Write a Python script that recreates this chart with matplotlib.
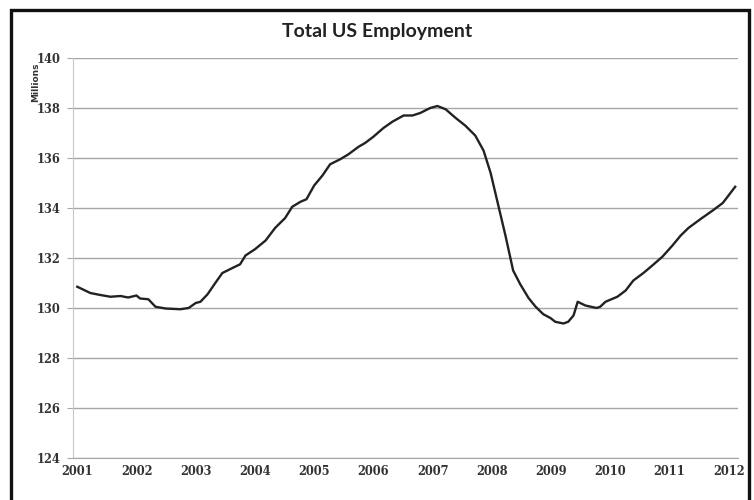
import matplotlib
matplotlib.use('Agg')
import matplotlib.pyplot as plt
from matplotlib.patches import Rectangle

# employment in millions (decimal year, value)
years = [2001.0, 2001.22, 2001.39, 2001.56, 2001.73, 2001.86, 2002.0, 2002.06, 2002.2, 2002.32,
         2002.49, 2002.74, 2002.88, 2003.0, 2003.08, 2003.2, 2003.33, 2003.45, 2003.62, 2003.75,
         2003.84, 2004.0, 2004.18, 2004.34, 2004.51, 2004.63, 2004.77, 2004.87, 2005.0, 2005.14,
         2005.27, 2005.44, 2005.58, 2005.75, 2005.86, 2006.0, 2006.17, 2006.32, 2006.51, 2006.66,
         2006.79, 2006.96, 2007.08, 2007.22, 2007.39, 2007.55, 2007.72, 2007.86, 2007.98, 2008.09,
         2008.23, 2008.36, 2008.48, 2008.62, 2008.74, 2008.87, 2008.99, 2009.07, 2009.21, 2009.29,
         2009.38, 2009.45, 2009.58, 2009.77, 2009.83, 2009.92, 2010.12, 2010.26, 2010.39, 2010.56,
         2010.71, 2010.88, 2011.05, 2011.19, 2011.32, 2011.52, 2011.73, 2011.9, 2012.11]
employment = [130.85, 130.6, 130.52, 130.45, 130.48, 130.42, 130.5, 130.38, 130.35, 130.05,
              129.98, 129.95, 130.0, 130.2, 130.25, 130.55, 131.0, 131.4, 131.6, 131.75,
              132.1, 132.35, 132.7, 133.2, 133.6, 134.05, 134.25, 134.35, 134.9, 135.3,
              135.75, 135.95, 136.15, 136.45, 136.6, 136.85, 137.2, 137.45, 137.7, 137.7,
              137.8, 138.0, 138.08, 137.95, 137.6, 137.3, 136.9, 136.3, 135.4, 134.3,
              132.9, 131.5, 130.95, 130.4, 130.05, 129.75, 129.6, 129.45, 129.38, 129.45,
              129.7, 130.25, 130.1, 130.0, 130.05, 130.25, 130.45, 130.7, 131.1, 131.4,
              131.7, 132.05, 132.5, 132.9, 133.2, 133.55, 133.9, 134.2, 134.85]

year_ticks = list(range(2001, 2013))
value_ticks = list(range(124, 141, 2))

fig = plt.figure(figsize=(7.54, 5.0), dpi=100)
# black frame round the picture, bottom edge cut off in the original
fig.patches.append(Rectangle((0.0146, -0.02), 0.979, 1.0, transform=fig.transFigure,
                             fill=False, edgecolor='#111111', linewidth=2.4))

ax = fig.add_axes([0.097, 0.084, 0.882, 0.800])
ax.plot(years, employment, color='#222222', linewidth=1.7)

ax.set_xlim(2000.93, 2012.16)
ax.set_ylim(124, 140)
ax.set_yticks(value_ticks)
ax.set_xticks(year_ticks)
ax.set_yticklabels([str(v) for v in value_ticks], family='DejaVu Serif', fontsize=8.3, fontweight='bold', color='#333333')
ax.set_xticklabels([str(y) for y in year_ticks], family='DejaVu Serif', fontsize=8.3, fontweight='bold', color='#333333')

ax.grid(axis='y', color='#a6a6a6', linewidth=1.0)
ax.set_axisbelow(True)
for s in ['top', 'right']:
    ax.spines[s].set_visible(False)
ax.spines['left'].set_color('#c8c8c8')
ax.spines['bottom'].set_color('#a6a6a6')
ax.tick_params(axis='y', length=4, color='#a6a6a6', pad=5)
ax.tick_params(axis='x', length=0, pad=5)

ax.set_ylabel('Millions', family='DejaVu Sans', fontsize=6.5, fontweight='bold', color='#333333')
ax.yaxis.set_label_coords(-0.05, 0.94)

fig.text(0.5, 0.938, 'Total US Employment', ha='center', va='center',
         family='Lato', fontsize=14, fontweight='bold', color='#222222')

fig.savefig('out.png', dpi=100)
